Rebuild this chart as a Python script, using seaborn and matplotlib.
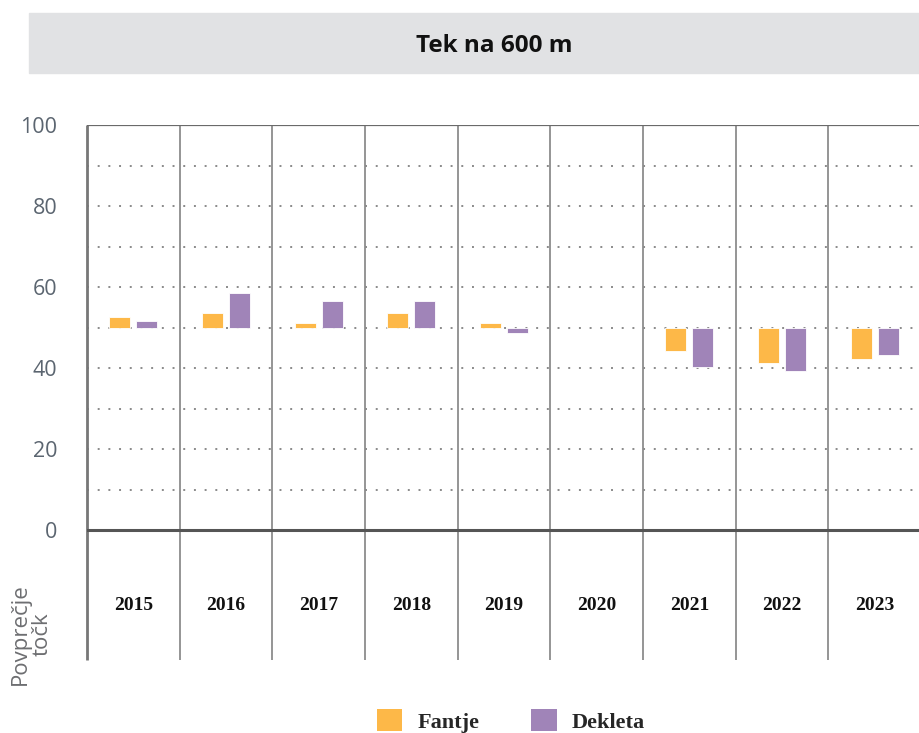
import pandas as pd
import numpy as np
import seaborn as sns
import matplotlib.pyplot as plt
from matplotlib.patches import Rectangle, Patch

# podatki
years = ['2015', '2016', '2017', '2018', '2019', '2020', '2021', '2022', '2023']
fantje = [52.6, 53.7, 51.2, 53.7, 51.2, np.nan, 44.3, 41.3, 42.3]
dekleta = [51.6, 58.5, 56.6, 56.6, 48.8, np.nan, 40.2, 39.3, 43.3]
groups = ['Fantje', 'Dekleta']
baseline = 50
title = 'Tek na 600 m'
ylabel = 'Povprečje\ntočk'

colors = {'Fantje': '#fdb848', 'Dekleta': '#a084b8'}

df = pd.DataFrame({
    'leto': years * 2,
    'spol': ['Fantje'] * len(years) + ['Dekleta'] * len(years),
    'tocke': fantje + dekleta,
})
df['razlika'] = df['tocke'] - baseline

sns.set_theme(style="white")
plt.rcParams['font.family'] = ['Open Sans', 'DejaVu Sans']

fig = plt.figure(figsize=(9.2, 7.33), dpi=100)
ax = fig.add_axes([87 / 920, 1 - 660 / 733, 834 / 920, 535 / 733])

sns.barplot(data=df, x='leto', y='razlika', hue='spol', order=years,
            hue_order=groups, palette=colors, saturation=1, width=0.584, gap=0.22,
            bottom=baseline, edgecolor='#ffffff', linewidth=0.6,
            legend=False, ax=ax, zorder=3)

ax.set_xlim(-0.5, len(years) - 0.5)
ax.set_ylim(-32, 100)

# pikcasta mreža
for y in range(10, 100, 10):
    ax.axhline(y, color='#8a8a8a', lw=1.4, ls=(0, (1, 4.5)), zorder=1)
ax.axhline(0, color='#555555', lw=2.2, zorder=4)
ax.axhline(100, color='#6a6a6a', lw=1.6, zorder=4)

# navpične črte med stolpci
for i in range(len(years) + 1):
    lw = 2.0 if i == 0 else 1.3
    col = '#777777' if i == 0 else '#8c8c8c'
    ax.plot([i - 0.5, i - 0.5], [-32, 100], color=col, lw=lw, zorder=2,
            solid_capstyle='butt', clip_on=False)

for sp in ax.spines.values():
    sp.set_visible(False)

ax.set_xticks([])
ax.set_xlabel('')
ax.set_ylabel('')
ax.set_yticks(range(0, 101, 20))
ax.tick_params(axis='y', length=0, pad=21.5, labelsize=15.5, labelcolor='#5b6570')

for i, yr in enumerate(years):
    ax.text(i, -18.5, yr, ha='center', va='center', fontsize=14,
            fontweight='bold', family='Liberation Serif', color='#111111')

# naslov v sivem okvirju
fig.patches.append(Rectangle((29 / 920, 1 - 73 / 733), 1, 60 / 733,
                             transform=fig.transFigure, color='#e1e2e4', zorder=0))
fig.text(494 / 920, 1 - 46 / 733, title, ha='center', va='center',
         fontsize=17.5, fontweight='bold', color='#111111')

fig.text(31 / 920, 1 - 634 / 733, ylabel, rotation=90, ha='center', va='center',
         fontsize=16, color='#6d6e71', linespacing=1.05)

handles = [Patch(facecolor=colors[g], edgecolor='none', label=g) for g in groups]
fig.legend(handles=handles, loc='center', bbox_to_anchor=(511 / 920, 1 - 721 / 733),
           ncol=2, frameon=False, handlelength=1.15, handleheight=1.15,
           columnspacing=2.3, handletextpad=0.7,
           prop={'family': 'Liberation Serif', 'weight': 'bold', 'size': 16})

fig.savefig('out.png', dpi=100)
